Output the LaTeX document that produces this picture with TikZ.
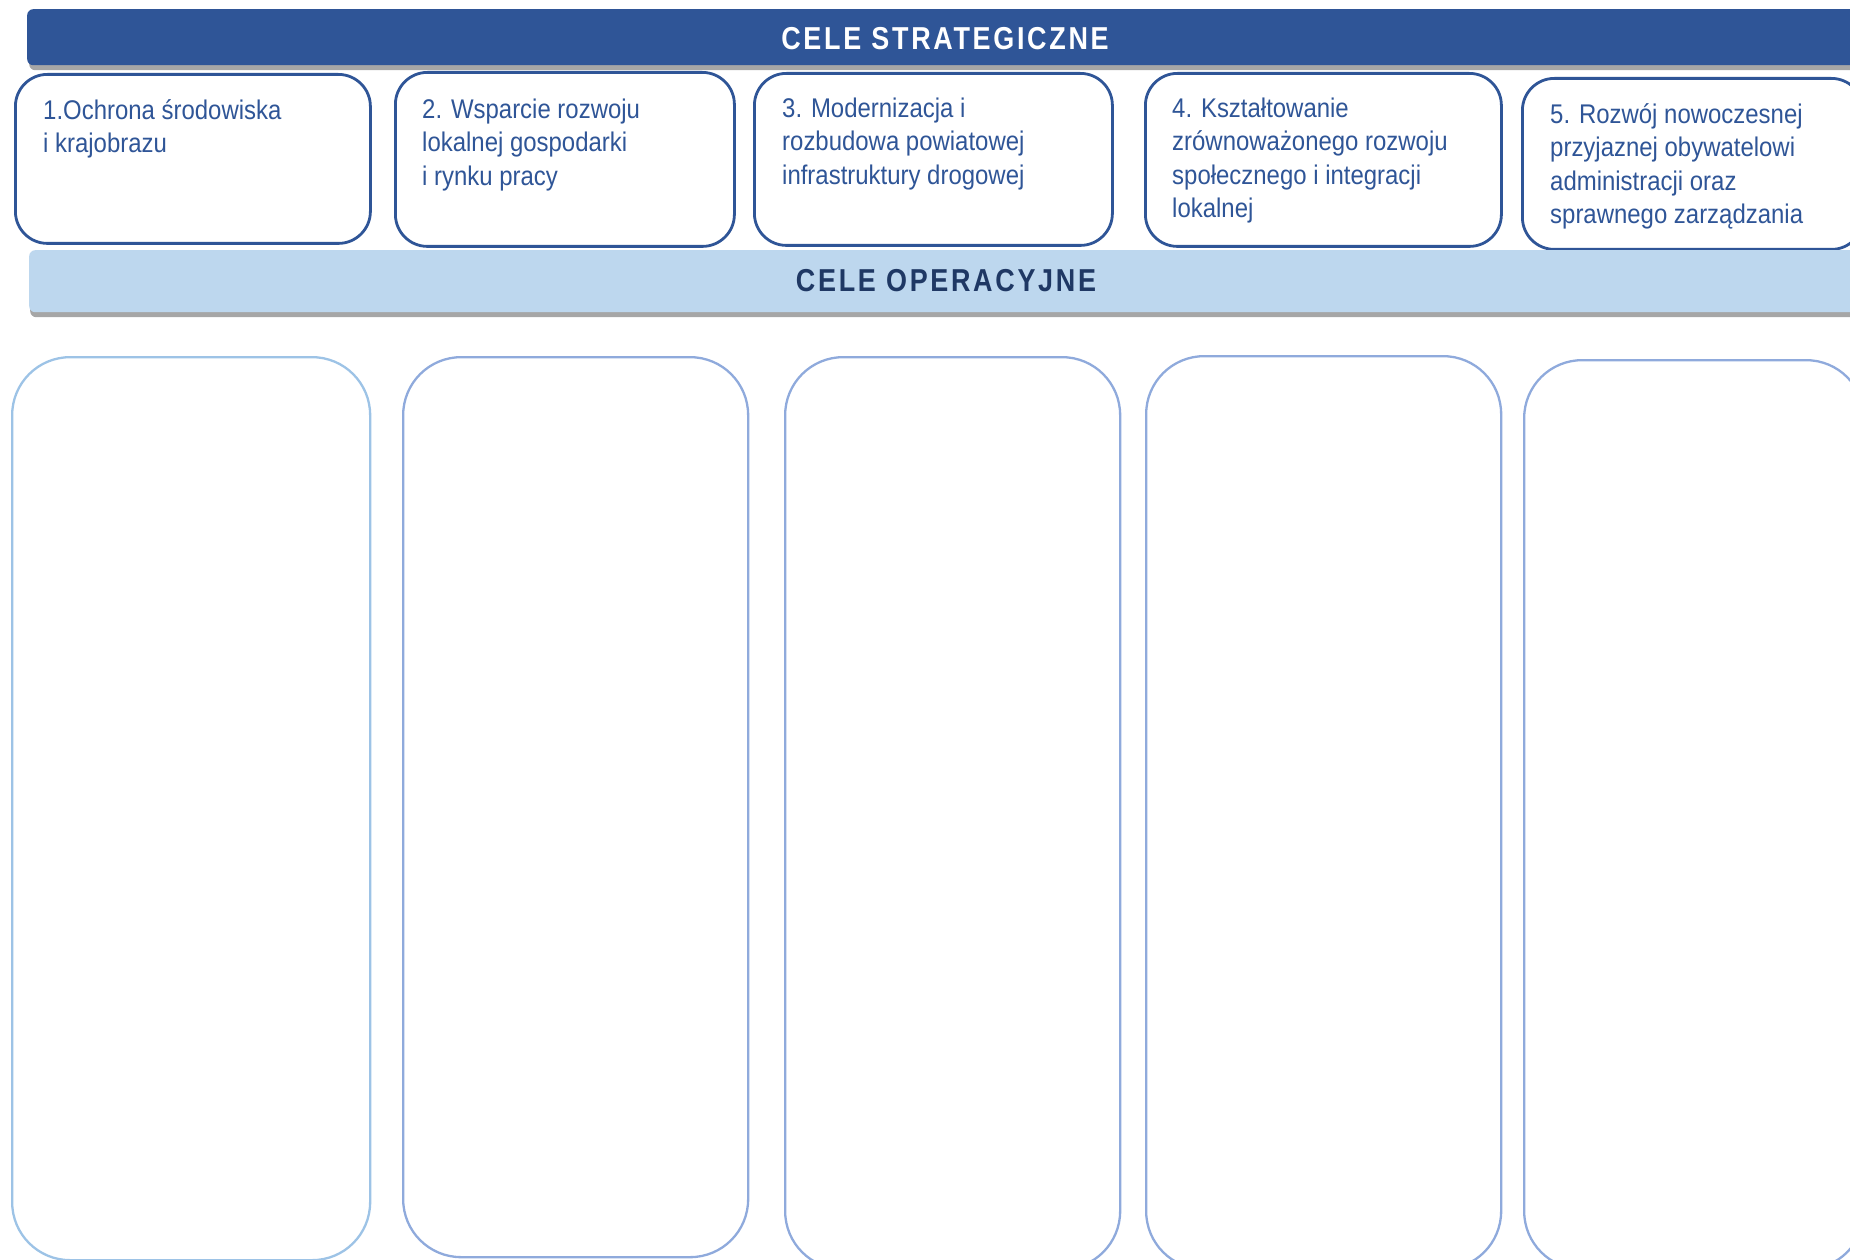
\documentclass[tikz,border=0pt]{standalone}
\usepackage{fontspec}
\newfontfamily\boxfont{Liberation Sans}[FakeStretch=0.887]
\newfontfamily\headfont{Liberation Sans}[FakeStretch=0.85,LetterSpace=8.5]
\definecolor{barblue}{HTML}{2F5597}
\definecolor{opbar}{HTML}{BDD7EE}
\definecolor{optext}{HTML}{1F3864}
\definecolor{shadowgrey}{HTML}{A6A6A6}
\definecolor{colA}{HTML}{9DC3E6}
\definecolor{colB}{HTML}{8FAADC}
\tikzset{
  stratbox/.style={draw=barblue, line width=2.8pt, rectangle, rounded corners=32pt, fill=white, anchor=north west, inner sep=0pt},
  colbox/.style={draw=#1, line width=2.3pt, rectangle, rounded corners=58pt, anchor=north west, inner sep=0pt},
  boxtext/.style={anchor=north west, inner sep=0pt, align=left, text=barblue, font=\boxfont\fontsize{27}{33.5}\selectfont},
  headtext/.style={anchor=base, inner sep=0pt, font=\headfont\bfseries\fontsize{31.7}{36}\selectfont},
  barshape/.style={rectangle, rounded corners=6pt, anchor=north west, inner sep=0pt, fill=#1}
}
\begin{document}
\begin{tikzpicture}[x=1pt,y=-1pt]
\useasboundingbox (0,0) rectangle (1850,1260);
\clip (0,0) rectangle (1850,1260);
% top bar
\node[barshape=shadowgrey, minimum width=1840pt, minimum height=56pt] (topshadow) at (29,14) {};
\node[barshape=barblue, minimum width=1840pt, minimum height=56pt] (topbar) at (27,9) {};
\node[headtext, text=white] (toptitle) at (945,50) {CELE STRATEGICZNE};
% strategic boxes
\node[stratbox, minimum width=355pt, minimum height=169pt] (s1) at (14,73) {};
\node[stratbox, minimum width=339pt, minimum height=174pt] (s2) at (394,71) {};
\node[stratbox, minimum width=358pt, minimum height=172pt] (s3) at (753,72) {};
\node[stratbox, minimum width=356pt, minimum height=173pt] (s4) at (1144,72) {};
\node[stratbox, minimum width=341pt, minimum height=171pt] (s5) at (1521,77) {};
\node[boxtext] (t1) at (43,97) {\rule{0pt}{22pt}1.Ochrona środowiska\\i krajobrazu};
\node[boxtext] (t2) at (422,96) {\rule{0pt}{22pt}2. Wsparcie rozwoju\\lokalnej gospodarki\\i rynku pracy};
\node[boxtext] (t3) at (782,95) {\rule{0pt}{22pt}3. Modernizacja i\\rozbudowa powiatowej\\infrastruktury drogowej};
\node[boxtext] (t4) at (1172,95) {\rule{0pt}{22pt}4. Kształtowanie\\zrównoważonego rozwoju\\społecznego i integracji\\lokalnej};
\node[boxtext] (t5) at (1550,101) {\rule{0pt}{22pt}5. Rozwój nowoczesnej\\przyjaznej obywatelowi\\administracji oraz\\sprawnego zarządzania};
% operational bar
\node[barshape=shadowgrey, minimum width=1840pt, minimum height=62pt] (opshadow) at (30,255) {};
\node[barshape=opbar, minimum width=1840pt, minimum height=62pt] (opbarnode) at (29,250) {};
\node[headtext, text=optext] (optitle) at (946,291) {CELE OPERACYJNE};
% columns
\node[colbox=colA, minimum width=358pt, minimum height=903pt] (c1) at (11,356) {};
\node[colbox=colB, minimum width=345pt, minimum height=900pt] (c2) at (402,356) {};
\node[colbox=colB, minimum width=335pt, minimum height=912pt] (c3) at (784,356) {};
\node[colbox=colB, minimum width=355pt, minimum height=913pt] (c4) at (1145,355) {};
\node[colbox=colB, minimum width=340pt, minimum height=909pt] (c5) at (1523,359) {};
\end{tikzpicture}
\end{document}
